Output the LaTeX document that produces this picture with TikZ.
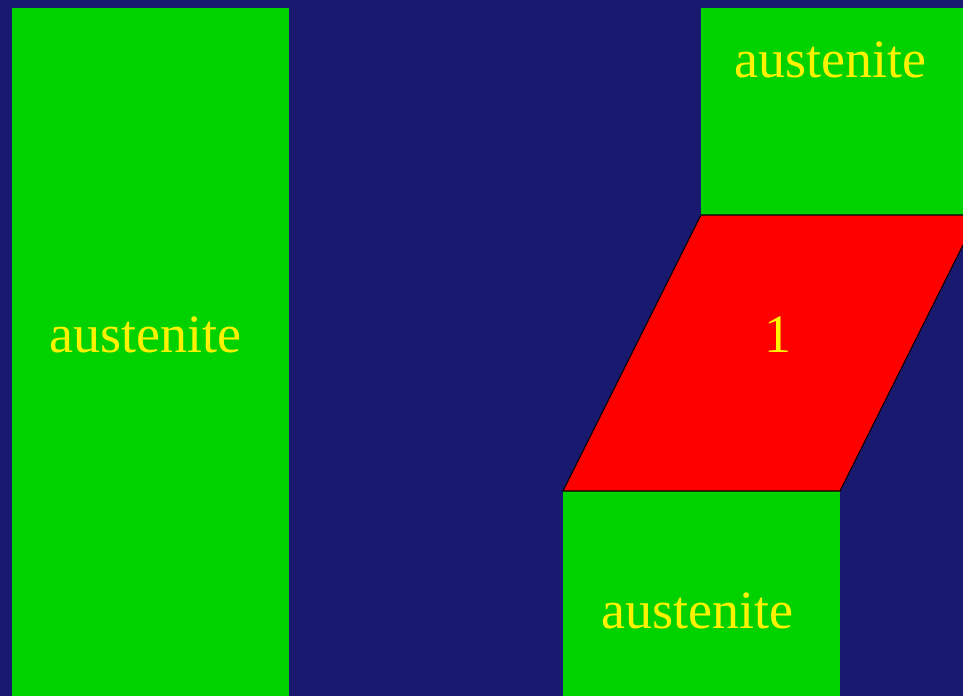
\documentclass[tikz,border=0pt]{standalone}
\usepackage{fontspec}
\setmainfont{Liberation Serif}
\usetikzlibrary{positioning}
\definecolor{navybg}{RGB}{25,25,112}
\definecolor{phasegreen}{RGB}{0,210,0}
\tikzset{
  austbox/.style={fill=phasegreen},
  twinbox/.style={fill=red, draw=black, thick},
  phaselabel/.style={text=yellow, font=\fontsize{40.5}{48}\selectfont, anchor=base, inner sep=0pt}
}

\begin{document}
\begin{tikzpicture}[x=0.75pt, y=-0.75pt]
  \clip (0,0) rectangle (963,696);
  \fill[navybg] (0,0) rectangle (963,696);
  % austenite blocks
  \fill[austbox] (12,8) rectangle (289,696);
  \fill[austbox] (701,8) rectangle (963,215);
  \fill[austbox] (563,491) rectangle (840,696);
  % sheared band
  \draw[twinbox] (563,491) -- (701,215) -- (978,215) -- (840,491) -- cycle;
  \node[phaselabel] (left) at (145,352) {austenite};
  \node[phaselabel] (top) at (830,77) {austenite};
  \node[phaselabel] (bottom) at (697,628) {austenite};
  \node[phaselabel] (band) at (778,352) {1};
\end{tikzpicture}
\end{document}
